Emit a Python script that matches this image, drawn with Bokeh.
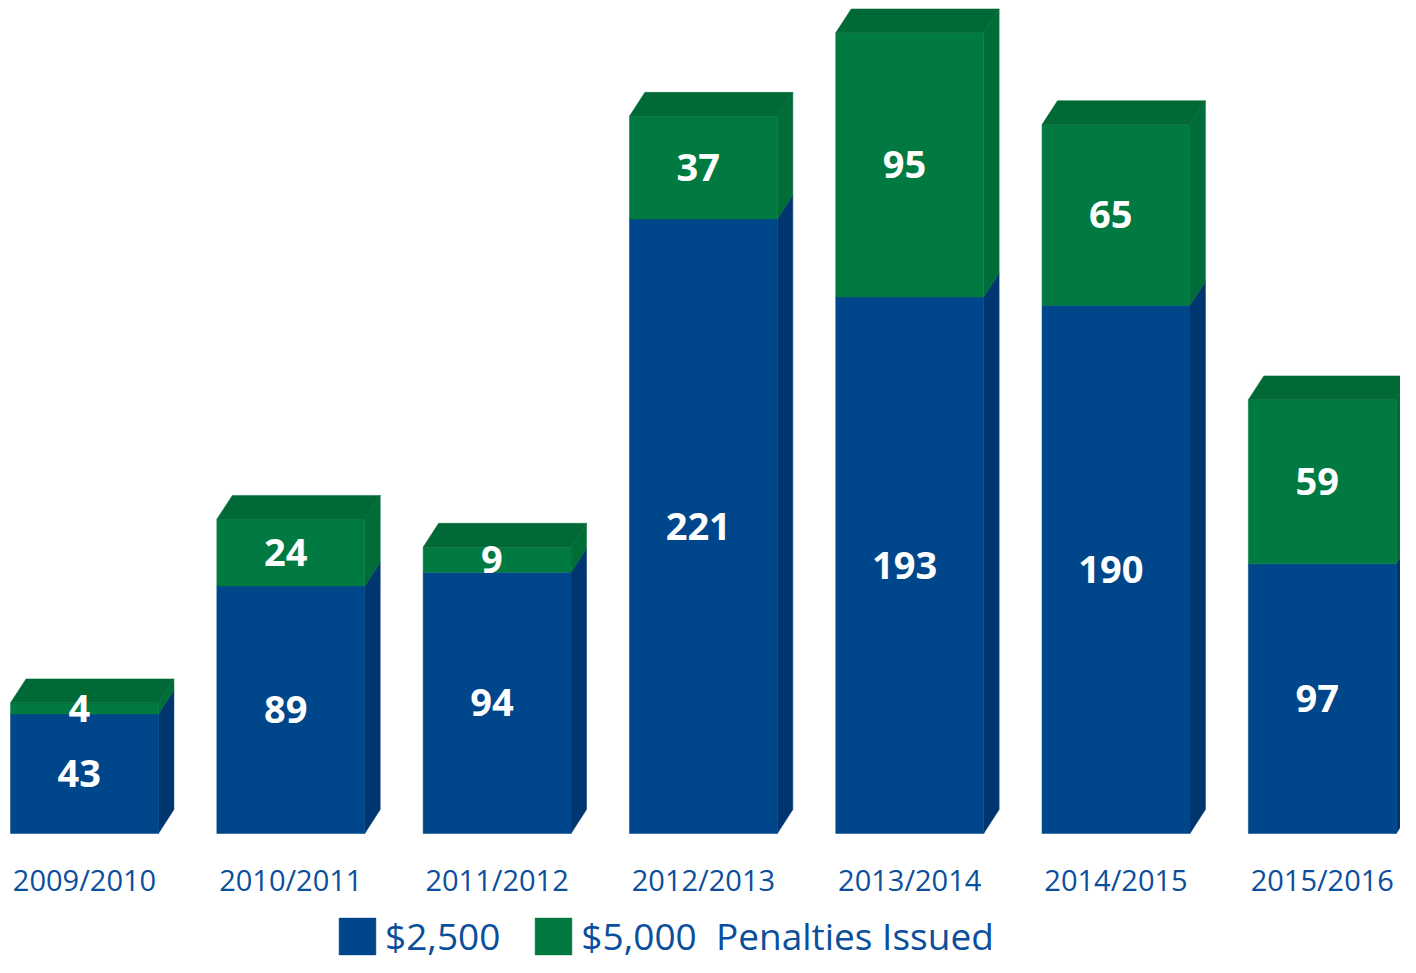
from bokeh.plotting import figure
from bokeh.models import Range1d, Legend, LegendItem, ColumnDataSource
from bokeh.core.properties import value
from bokeh.embed import file_html
from bokeh.resources import INLINE

# ---- data ----
seasons = ["2009/2010", "2010/2011", "2011/2012", "2012/2013",
           "2013/2014", "2014/2015", "2015/2016"]
pen_2500 = [43, 89, 94, 221, 193, 190, 97]
pen_5000 = [4, 24, 9, 37, 95, 65, 59]

# ---- style constants ----
BAR_W = 0.717      # front face width in category units
DX = 0.075         # depth offset (x, category units)
DY = 8.6           # depth offset (y, value units)
LABEL_SHIFT = -0.025
BLUE_F, BLUE_S = "#00468A", "#003670"
GREEN_F, GREEN_S, GREEN_T = "#007A40", "#006C38", "#006935"
TEXT_BLUE = "#0B4F9C"

xs = list(range(len(seasons)))
top_b = pen_2500
top_g = [a + b for a, b in zip(pen_2500, pen_5000)]
left = [x - BAR_W / 2 for x in xs]
right = [x + BAR_W / 2 for x in xs]

src = ColumnDataSource(dict(
    x=xs, xl=[x + LABEL_SHIFT for x in xs], season=seasons,
    b=pen_2500, g=pen_5000, tb=top_b, tg=top_g,
    zero=[0] * len(xs),
    lab_b=[str(v) for v in pen_2500], lab_g=[str(v) for v in pen_5000],
    yb=[v / 2 for v in pen_2500],
    yg=[b + g / 2 for b, g in zip(pen_2500, pen_5000)],
    ycat=[-16.5] * len(xs),
))

side_b_x = [[r, r + DX, r + DX, r] for r in right]
side_b_y = [[t, t + DY, DY, 0] for t in top_b]
side_g_x = [[r, r + DX, r + DX, r] for r in right]
side_g_y = [[tg, tg + DY, tb + DY, tb] for tg, tb in zip(top_g, top_b)]
top_x = [[l, r, r + DX, l + DX] for l, r in zip(left, right)]
top_y = [[t, t, t + DY, t + DY] for t in top_g]

W, H = 1400, 965
PX_PER_CAT = 206.3
PX_PER_VAL = 2.78
x0 = -84 / PX_PER_CAT
y0 = -(H - 833) / PX_PER_VAL

p = figure(width=W, height=H, output_backend="svg", toolbar_location=None,
           x_range=Range1d(x0, x0 + W / PX_PER_CAT),
           y_range=Range1d(y0, y0 + H / PX_PER_VAL),
           x_axis_location=None, y_axis_location=None,
           min_border=0, min_border_left=0, min_border_right=0,
           min_border_top=0, min_border_bottom=0)
p.outline_line_color = None
p.grid.visible = False
p.background_fill_color = "white"

p.patches(side_b_x, side_b_y, fill_color=BLUE_S, line_color=BLUE_S, line_width=0.5)
p.patches(side_g_x, side_g_y, fill_color=GREEN_S, line_color=GREEN_S, line_width=0.5)
r_blue = p.vbar(x="x", width=BAR_W, bottom="zero", top="tb", source=src,
                fill_color=BLUE_F, line_color=BLUE_F, line_width=0.5)
r_green = p.vbar(x="x", width=BAR_W, bottom="tb", top="tg", source=src,
                 fill_color=GREEN_F, line_color=GREEN_F, line_width=0.5)
p.patches(top_x, top_y, fill_color=GREEN_T, line_color=GREEN_T, line_width=0.5)

p.text(x="xl", y="yb", text="lab_b", source=src, text_color="white",
       text_font=value("Open Sans"), text_font_style="bold",
       text_font_size="38px", text_align="center", text_baseline="middle")
p.text(x="xl", y="yg", text="lab_g", source=src, text_color="white",
       text_font=value("Open Sans"), text_font_style="bold",
       text_font_size="38px", text_align="center", text_baseline="middle")
p.text(x="x", y="ycat", text="season", source=src, text_color=TEXT_BLUE,
       text_font=value("Open Sans"), text_font_size="29px",
       text_align="center", text_baseline="middle")

legend = Legend(items=[LegendItem(label="$2,500", renderers=[r_blue]),
                       LegendItem(label="$5,000  Penalties Issued", renderers=[r_green])],
                orientation="horizontal", location=(334, 4),
                glyph_width=46, glyph_height=46, label_standoff=5, spacing=30,
                padding=0, margin=0, border_line_alpha=0,
                background_fill_alpha=0, label_height=46,
                label_text_font="Open Sans", label_text_font_size="37px",
                label_text_color=TEXT_BLUE, label_text_baseline="middle")
p.add_layout(legend, "center")

open("out.html", "w").write(file_html(p, INLINE))
